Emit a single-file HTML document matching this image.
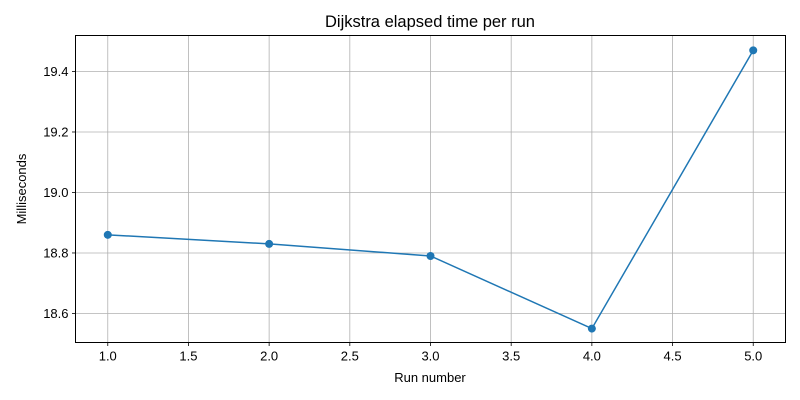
<!DOCTYPE html>
<html><head><meta charset="utf-8"><style>
body{margin:0;background:#fff;}
svg{display:block;font-family:"Liberation Sans","DejaVu Sans",sans-serif;}
</style></head><body>
<svg id="chart" width="800" height="400">
<rect width="800" height="400" fill="#fff"/>
<text x="430" y="27" text-anchor="middle" font-size="16.5">Dijkstra elapsed time per run</text>
<g id="grid"></g>
<g id="axes"></g>
<g id="series"></g>
<rect x="75.5" y="35.5" width="710" height="307" fill="none" stroke="#000" stroke-width="1"/>
<text x="430" y="382" text-anchor="middle" font-size="13">Run number</text>
<text transform="translate(26,189) rotate(-90)" text-anchor="middle" font-size="13">Milliseconds</text>
</svg>
<script>
const runs=[1,2,3,4,5];
const times=[18.86,18.83,18.79,18.55,19.47];
const xTicks=[1.0,1.5,2.0,2.5,3.0,3.5,4.0,4.5,5.0];
const yTicks=[18.6,18.8,19.0,19.2,19.4];
const NS="http://www.w3.org/2000/svg";
const L=75.5,R=785.5,T=35.5,B=342.5;
const xmin=0.8,xmax=5.2,ymin=18.504,ymax=19.519;
function xs(v){return L+(v-xmin)/(xmax-xmin)*(R-L);}
function ys(v){return B-(v-ymin)/(ymax-ymin)*(B-T);}
function mk(t,a,p){const e=document.createElementNS(NS,t);for(const k in a)e.setAttribute(k,a[k]);p.appendChild(e);return e;}
const grid=document.getElementById('grid'),axes=document.getElementById('axes'),ser=document.getElementById('series');
xTicks.forEach(v=>{const x=xs(v);
const g=mk('line',{x1:x,x2:x,y1:T,y2:B,stroke:'#b0b0b0','stroke-width':0.8},grid);


mk('line',{x1:x,x2:x,y1:B,y2:B+3.5,stroke:'#000','stroke-width':0.8},axes);
const t=mk('text',{x:x,y:B+18,'text-anchor':'middle','font-size':13},axes);t.textContent=v.toFixed(1);

});
yTicks.forEach(v=>{const y=ys(v);
const g=mk('line',{x1:L,x2:R,y1:y,y2:y,stroke:'#b0b0b0','stroke-width':0.8},grid);


mk('line',{x1:L-3.5,x2:L,y1:y,y2:y,stroke:'#000','stroke-width':0.8},axes);
const t=mk('text',{x:L-7,y:y+4.5,'text-anchor':'end','font-size':13},axes);t.textContent=v.toFixed(1);

});
const pts=runs.map((r,i)=>xs(r)+','+ys(times[i])).join(' ');
const pl=mk('polyline',{points:pts,fill:'none',stroke:'#1f77b4','stroke-width':1.5},ser);


runs.forEach((r,i)=>{const c=mk('circle',{cx:xs(r),cy:ys(times[i]),r:4,fill:'#1f77b4'},ser);

});
</script>
</body></html>
